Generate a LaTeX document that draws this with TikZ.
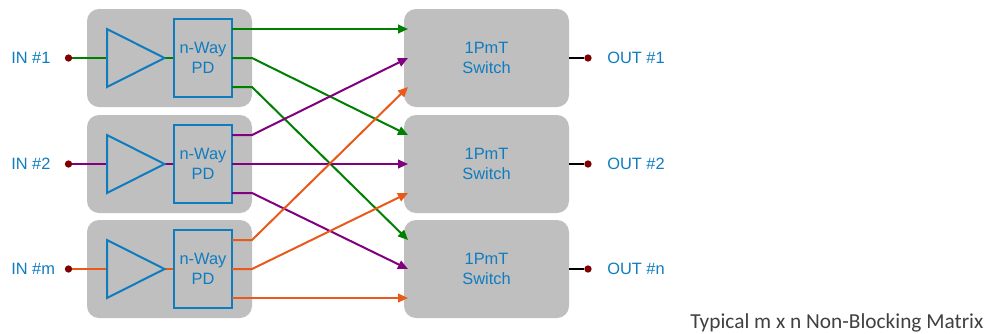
\documentclass[tikz,border=0pt]{standalone}
\usepackage{fontspec}
\newfontfamily\capfont{Carlito}
\newfontfamily\arialfont{Liberation Sans}
\setmainfont{Liberation Sans}
\usetikzlibrary{arrows.meta}
\definecolor{bluetxt}{HTML}{0F7CC0}
\definecolor{boxgray}{HTML}{BFBFBF}
\definecolor{gr}{HTML}{008000}
\definecolor{pu}{HTML}{800080}
\definecolor{orn}{HTML}{E8591A}
\definecolor{dotred}{HTML}{7F0000}
\definecolor{captxt}{HTML}{404040}
\newcommand{\lowered}[1]{\raisebox{-0.7pt}{#1}}
\tikzset{
  graybox/.style={fill=boxgray,rounded corners=9pt,minimum width=123.75pt,minimum height=73.5pt,inner sep=0pt,align=center,text=bluetxt,font=\arialfont\fontsize{12.3}{15}\selectfont},
  pdbox/.style={draw=bluetxt,line width=1.5pt,minimum width=43pt,minimum height=58pt,inner sep=0pt,align=center,text=bluetxt,font=\arialfont\fontsize{12.3}{15}\selectfont},
  amp/.style={draw=bluetxt,line width=1.5pt,line join=miter},
  lbl/.style={text=bluetxt,font=\arialfont\fontsize{12.3}{15}\selectfont,inner sep=0pt,anchor=west},
  term/.style={circle,fill=dotred,inner sep=0pt,minimum size=5.5pt},
  wire/.style={line width=1.5pt},
  arrowwire/.style={line width=1.5pt,-{Triangle[length=7.5pt,width=6.5pt]}},
}
\begin{document}
\begin{tikzpicture}[x=0.75pt,y=-0.75pt]
\useasboundingbox (0,0) rectangle (986,333);
\foreach \i/\cy/\lab/\olab/\col in {1/58/IN \#1/OUT \#1/gr,2/164/IN \#2/OUT \#2/pu,3/269/IN \#m/OUT \#n/orn}{
  \node[graybox] (blk\i) at (169.5,\cy) {};
  \node[graybox] (sw\i) at (486.5,\cy) {\lowered{1PmT}\\\lowered{Switch}};
  \node[pdbox] (pd\i) at (203,\cy) {\lowered{n-Way}\\\lowered{PD}};
  \coordinate (t\i a) at (107,\cy-29);
  \coordinate (t\i b) at (107,\cy+29);
  \coordinate (t\i c) at (164.5,\cy);
  \coordinate (t\i w) at (107,\cy);
  \node[term] (in\i) at (68.5,\cy) {};
  \node[term] (out\i) at (588,\cy) {};
  \node[lbl] (inl\i) at (11,\cy) {\lowered{\lab}};
  \node[lbl] (outl\i) at (607,\cy) {\lowered{\olab}};
  \coordinate (o\i a) at (232,\cy-29);
  \coordinate (o\i b) at (232,\cy);
  \coordinate (o\i c) at (232,\cy+29);
  \coordinate (b\i a) at (252,\cy-29);
  \coordinate (b\i b) at (252,\cy);
  \coordinate (b\i c) at (252,\cy+29);
  \coordinate (s\i a) at (408,\cy-29);
  \coordinate (s\i b) at (408,\cy);
  \coordinate (s\i c) at (408,\cy+29);
  \draw[wire,\col] (in\i) -- (t\i w);
  \draw[wire,\col] (t\i c) -- (pd\i.west);
  \draw[amp] (t\i a) -- (t\i b) -- (t\i c) -- cycle;
  \draw[wire,black] (sw\i.east) -- (out\i);
}
\draw[arrowwire,gr] (o1a) -- (s1a);
\draw[arrowwire,gr] (o1b) -- (b1b) -- (s2a);
\draw[arrowwire,gr] (o1c) -- (b1c) -- (s3a);
\draw[arrowwire,pu] (o2a) -- (b2a) -- (s1b);
\draw[arrowwire,pu] (o2b) -- (s2b);
\draw[arrowwire,pu] (o2c) -- (b2c) -- (s3b);
\draw[arrowwire,orn] (o3a) -- (b3a) -- (s1c);
\draw[arrowwire,orn] (o3b) -- (b3b) -- (s2c);
\draw[arrowwire,orn] (o3c) -- (s3c);
\node[anchor=base west,inner sep=0pt,text=captxt,font=\capfont\fontsize{16}{19}\selectfont] (cap) at (690,328) {Typical m x n Non-Blocking Matrix};
\end{tikzpicture}
\end{document}
